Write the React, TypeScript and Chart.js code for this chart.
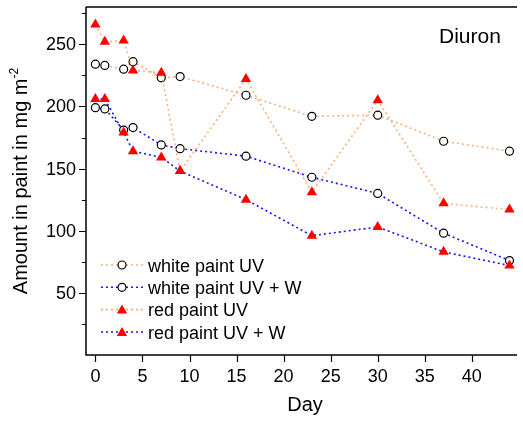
import React, { useEffect, useRef } from "react";
import { Chart, registerables } from "chart.js";

Chart.register(...registerables);

const days = [0, 1, 3, 4, 7, 9, 16, 23, 30, 37, 44];
const whiteUV = [234, 233, 230, 236, 223, 224, 209, 192, 193, 172, 164];
const whiteUVW = [199, 198, 181, 183, 169, 166, 160, 143, 130, 98, 76];
const redUV = [266, 252, 253, 229, 227, 148, 222, 131, 205, 122, 117];
const redUVW = [206, 206, 179, 164, 159, 148, 125, 96, 103, 83, 72];

const seriesNames = ["white paint UV", "white paint UV + W", "red paint UV", "red paint UV + W"];
const xTickLabels = [0, 5, 10, 15, 20, 25, 30, 35, 40];
const yTickLabels = [50, 100, 150, 200, 250];
const yMinorTicks = [25, 75, 125, 175, 225, 275];

const ORANGE = "rgb(248,176,122)";
const BLUE = "rgb(20,20,255)";
const FONT = "'Liberation Sans', Arial, sans-serif";

function pts(vals: number[]) {
  return days.map((d, i) => ({ x: d, y: vals[i] }));
}

function drawMarker(ctx: CanvasRenderingContext2D, kind: string, x: number, y: number) {
  ctx.save();
  if (kind === "circle") {
    ctx.beginPath();
    ctx.arc(x, y, 4, 0, Math.PI * 2);
    ctx.fillStyle = "#fff";
    ctx.fill();
    ctx.lineWidth = 1.2;
    ctx.strokeStyle = "#000";
    ctx.stroke();
  } else {
    const r = 6;
    ctx.beginPath();
    ctx.moveTo(x, y - r);
    ctx.lineTo(x + r * 0.866, y + r / 2);
    ctx.lineTo(x - r * 0.866, y + r / 2);
    ctx.closePath();
    ctx.fillStyle = "#ff0000";
    ctx.fill();
  }
  ctx.restore();
}

const decorPlugin = {
  id: "decor",
  afterDraw(chart: any) {
    const ctx: CanvasRenderingContext2D = chart.ctx;
    const { left, top, right, bottom } = chart.chartArea;
    const xs = chart.scales.x;
    const ys = chart.scales.y;
    ctx.save();
    // frame
    ctx.strokeStyle = "#000";
    ctx.lineWidth = 1.5;
    ctx.beginPath();
    ctx.moveTo(left, top);
    ctx.lineTo(right, top);
    ctx.moveTo(left, top);
    ctx.lineTo(left, bottom);
    ctx.lineTo(right, bottom);
    ctx.stroke();

    // ticks
    ctx.lineWidth = 1.2;
    ctx.beginPath();
    for (const v of yTickLabels) {
      const y = Math.round(ys.getPixelForValue(v)) + 0.5;
      ctx.moveTo(left - 7, y);
      ctx.lineTo(left, y);
    }
    for (const v of yMinorTicks) {
      const y = Math.round(ys.getPixelForValue(v)) + 0.5;
      ctx.moveTo(left - 4, y);
      ctx.lineTo(left, y);
    }
    for (const v of xTickLabels) {
      const x = Math.round(xs.getPixelForValue(v)) + 0.5;
      ctx.moveTo(x, bottom);
      ctx.lineTo(x, bottom + 7);
    }
    ctx.stroke();

    // tick labels
    ctx.fillStyle = "#000";
    ctx.font = `18px ${FONT}`;
    ctx.textAlign = "right";
    ctx.textBaseline = "middle";
    for (const v of yTickLabels) {
      ctx.fillText(String(v), left - 10, ys.getPixelForValue(v) + 1);
    }
    ctx.textAlign = "center";
    ctx.textBaseline = "alphabetic";
    for (const v of xTickLabels) {
      ctx.fillText(String(v), xs.getPixelForValue(v), bottom + 27);
    }

    // x title
    ctx.font = `20px ${FONT}`;
    ctx.fillText("Day", 305, 411);

    // y title with superscript
    const main = "Amount in paint in mg m";
    const sup = "-2";
    ctx.font = `20px ${FONT}`;
    const wMain = ctx.measureText(main).width;
    ctx.font = `12px ${FONT}`;
    const wSup = ctx.measureText(sup).width;
    const total = wMain + wSup;
    ctx.save();
    ctx.translate(27, 181);
    ctx.rotate(-Math.PI / 2);
    ctx.textAlign = "left";
    ctx.textBaseline = "alphabetic";
    ctx.font = `20px ${FONT}`;
    ctx.fillText(main, -total / 2, 0);
    ctx.font = `12px ${FONT}`;
    ctx.fillText(sup, -total / 2 + wMain, -9);
    ctx.restore();

    // annotation
    ctx.font = `21px ${FONT}`;
    ctx.textAlign = "left";
    ctx.fillText("Diuron", 439, 43);

    // legend
    const rows = [265, 287.3, 309.6, 332];
    const styles = [
      { c: ORANGE, m: "circle" },
      { c: BLUE, m: "circle" },
      { c: ORANGE, m: "triangle" },
      { c: BLUE, m: "triangle" },
    ];
    rows.forEach((ry, i) => {
      ctx.save();
      ctx.strokeStyle = styles[i].c;
      ctx.lineWidth = 1.6;
      ctx.setLineDash([2, 3]);
      ctx.beginPath();
      ctx.moveTo(101, ry);
      ctx.lineTo(143, ry);
      ctx.stroke();
      ctx.restore();
      drawMarker(ctx, styles[i].m, 122, styles[i].m === "triangle" ? ry + 1 : ry);
      ctx.fillStyle = "#000";
      ctx.font = `18px ${FONT}`;
      ctx.textAlign = "left";
      ctx.textBaseline = "alphabetic";
      ctx.fillText(seriesNames[i], 148, ry + 6.5);
    });
    ctx.restore();
  },
};

export default function App() {
  const ref = useRef<HTMLCanvasElement>(null);
  useEffect(() => {
    if (!ref.current) return;
    const mk = (label: string, vals: number[], color: string, tri: boolean, order: number) => ({
      label,
      data: pts(vals),
      borderColor: color,
      borderWidth: 1.6,
      borderDash: [2, 3],
      tension: 0,
      fill: false,
      order,
      pointStyle: tri ? "triangle" : "circle",
      pointRadius: tri ? 6 : 4,
      pointBorderWidth: tri ? 0 : 1.2,
      pointBackgroundColor: tri ? "#ff0000" : "#ffffff",
      pointBorderColor: tri ? "#ff0000" : "#000000",
    });
    const chart = new Chart(ref.current, {
      type: "line",
      data: {
        datasets: [
          mk(seriesNames[0], whiteUV, ORANGE, false, 2),
          mk(seriesNames[1], whiteUVW, BLUE, false, 3),
          mk(seriesNames[2], redUV, ORANGE, true, 0),
          mk(seriesNames[3], redUVW, BLUE, true, 1),
        ] as any,
      },
      options: {
        animation: false,
        responsive: false,
        layout: { padding: { left: 86, top: 7, right: 0, bottom: 66 } },
        plugins: { legend: { display: false }, tooltip: { enabled: false } },
        scales: {
          x: { type: "linear", min: -1, max: 44.8, display: false },
          y: { type: "linear", min: 0, max: 280, display: false },
        },
      },
      plugins: [decorPlugin],
    });
    return () => chart.destroy();
  }, []);
  return (
    <div style={{ position: "fixed", left: 0, top: 0, width: 523, height: 421, background: "#fff" }}>
      <canvas ref={ref} width={523} height={421} />
    </div>
  );
}
